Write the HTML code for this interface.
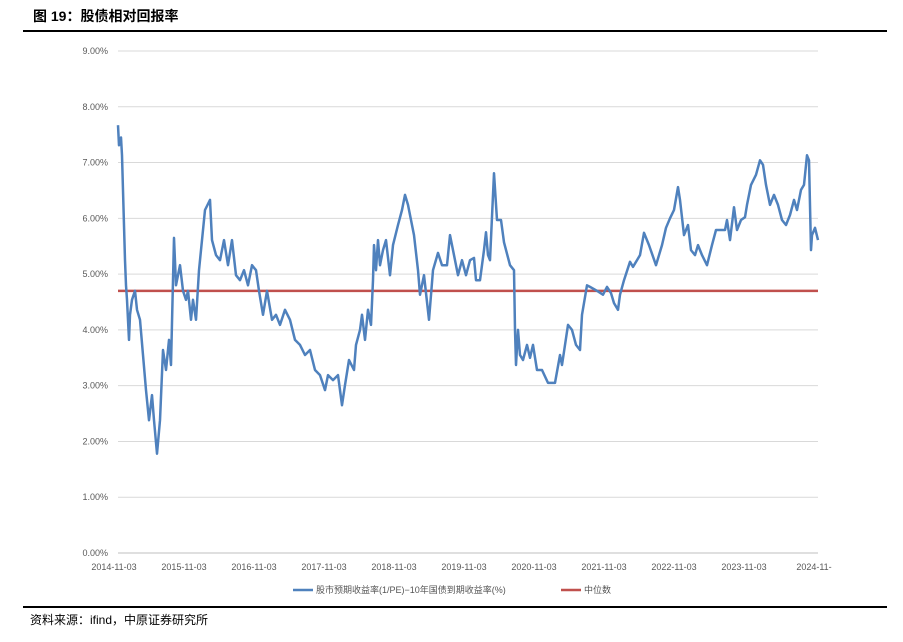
<!DOCTYPE html>
<html><head><meta charset="utf-8"><style>
body{margin:0;background:#fff;width:903px;height:637px;overflow:hidden;font-family:"Liberation Sans","Noto Sans CJK SC",sans-serif;}
</style></head><body>
<svg id="c" width="903" height="637" xmlns="http://www.w3.org/2000/svg">
<text x="33" y="21" font-size="14" font-weight="bold" fill="#000" font-family="Liberation Sans, Noto Sans CJK SC, sans-serif">图 19：股债相对回报率</text>
<line x1="23" y1="31" x2="887" y2="31" stroke="#000" stroke-width="2"/>
<g id="grid"></g><g id="ylab"></g><g id="xlab"></g><g id="marks"></g>
<g>
<line x1="293" y1="590" x2="313" y2="590" stroke="#4f81bd" stroke-width="2.5"/>
<text x="316" y="593" font-size="9" fill="#555">股市预期收益率(1/PE)−10年国债到期收益率(%)</text>
<line x1="561" y1="590" x2="581" y2="590" stroke="#c0504d" stroke-width="2.5"/>
<text x="584" y="593" font-size="9" fill="#555">中位数</text>
</g>
<line x1="23" y1="607" x2="887" y2="607" stroke="#000" stroke-width="2"/>
<text x="30" y="624" font-size="12" fill="#000">资料来源：ifind，中原证券研究所</text>
</svg>
<script>
const yTicks=[0,1,2,3,4,5,6,7,8,9];
const xLabels=["2014-11-03","2015-11-03","2016-11-03","2017-11-03","2018-11-03","2019-11-03","2020-11-03","2021-11-03","2022-11-03","2023-11-03","2024-11-"];
const medianValue=4.7;
const tYears=[0,.014,.043,.057,.071,.1,.114,.129,.157,.171,.2,.243,.271,.314,.357,.4,.443,.486,.514,.557,.6,.643,.686,.729,.757,.8,.829,.886,.929,.971,1.0,1.043,1.071,1.114,1.157,1.2,1.243,1.314,1.343,1.4,1.457,1.514,1.571,1.629,1.686,1.743,1.8,1.857,1.914,1.971,2.014,2.071,2.129,2.2,2.257,2.314,2.386,2.457,2.529,2.6,2.671,2.743,2.814,2.886,2.957,3.0,3.071,3.143,3.2,3.243,3.3,3.371,3.4,3.457,3.486,3.529,3.571,3.614,3.643,3.657,3.686,3.714,3.743,3.786,3.829,3.886,3.929,4.0,4.057,4.1,4.143,4.229,4.286,4.314,4.371,4.443,4.5,4.571,4.629,4.7,4.743,4.8,4.857,4.914,4.971,5.029,5.086,5.114,5.171,5.229,5.257,5.286,5.314,5.371,5.414,5.471,5.514,5.6,5.657,5.671,5.686,5.714,5.743,5.786,5.843,5.886,5.929,5.986,6.057,6.143,6.243,6.314,6.343,6.429,6.486,6.543,6.6,6.629,6.7,6.743,6.843,6.929,6.986,7.043,7.086,7.143,7.171,7.229,7.314,7.357,7.457,7.514,7.586,7.686,7.771,7.829,7.886,7.943,8.0,8.029,8.086,8.143,8.186,8.243,8.286,8.343,8.414,8.486,8.543,8.671,8.7,8.743,8.8,8.843,8.9,8.957,8.986,9.043,9.114,9.171,9.214,9.257,9.314,9.371,9.429,9.486,9.543,9.6,9.657,9.7,9.757,9.8,9.843,9.871,9.9,9.914,9.957,10.0];
const spread=[7.67,7.31,7.45,7.13,6.5,5.25,4.8,4.54,3.82,4.27,4.54,4.7,4.36,4.18,3.55,2.92,2.38,2.83,2.38,1.78,2.38,3.64,3.28,3.82,3.37,5.65,4.8,5.16,4.7,4.54,4.7,4.18,4.54,4.18,5.07,5.61,6.15,6.33,5.61,5.34,5.25,5.61,5.16,5.61,4.98,4.89,5.07,4.8,5.16,5.07,4.7,4.27,4.7,4.18,4.27,4.09,4.36,4.18,3.82,3.73,3.55,3.64,3.28,3.19,2.92,3.19,3.1,3.19,2.65,3.01,3.46,3.28,3.73,4.0,4.27,3.82,4.36,4.09,4.89,5.52,5.07,5.61,5.16,5.43,5.61,4.98,5.52,5.88,6.15,6.42,6.24,5.7,5.07,4.63,4.98,4.18,5.07,5.38,5.16,5.16,5.7,5.34,4.98,5.25,4.98,5.25,5.29,4.89,4.89,5.43,5.75,5.34,5.25,6.81,5.97,5.97,5.57,5.16,5.07,4.0,3.37,4.0,3.55,3.46,3.73,3.5,3.73,3.28,3.28,3.05,3.05,3.55,3.37,4.09,4.0,3.73,3.64,4.27,4.8,4.77,4.7,4.63,4.77,4.66,4.48,4.36,4.63,4.89,5.22,5.13,5.34,5.74,5.52,5.16,5.52,5.83,6.0,6.15,6.56,6.33,5.7,5.88,5.43,5.34,5.52,5.34,5.16,5.52,5.79,5.79,5.97,5.61,6.2,5.79,5.97,6.02,6.24,6.6,6.78,7.04,6.96,6.6,6.24,6.42,6.24,5.97,5.88,6.06,6.33,6.15,6.51,6.6,7.13,7.04,5.43,5.7,5.83,5.61];
const NS="http://www.w3.org/2000/svg";
const X0=118,X1=818,Y0=553,Y9=51;
const xs=t=>X0+t*(X1-X0)/10;
const ys=v=>Y0-v*(Y0-Y9)/9;
function mk(tag,at,parent){const e=document.createElementNS(NS,tag);for(const k in at)e.setAttribute(k,at[k]);document.getElementById(parent).appendChild(e);return e;}
yTicks.forEach(v=>{
  const g=mk('line',{x1:X0,x2:X1,y1:ys(v),y2:ys(v),stroke:v===0?'#bfbfbf':'#d9d9d9','stroke-width':1},'grid');
  
  
  const t=mk('text',{x:108,y:ys(v)+3,'font-size':9,fill:'#595959','text-anchor':'end'},'ylab');
  t.textContent=v.toFixed(2)+'%';
  
  
});
xLabels.forEach((s,i)=>{
  const t=mk('text',{x:xs(i)-4,y:570,'font-size':9,fill:'#595959','text-anchor':'middle'},'xlab');
  t.textContent=s;
  
  
});
const m=mk('line',{x1:X0,x2:X1,y1:ys(medianValue),y2:ys(medianValue),stroke:'#c0504d','stroke-width':2.5},'marks');


const p=mk('polyline',{points:tYears.map((t,i)=>xs(t).toFixed(1)+','+ys(spread[i]).toFixed(1)).join(' '),fill:'none',stroke:'#4f81bd','stroke-width':2.5,'stroke-linejoin':'round'},'marks');


</script>
</body></html>
